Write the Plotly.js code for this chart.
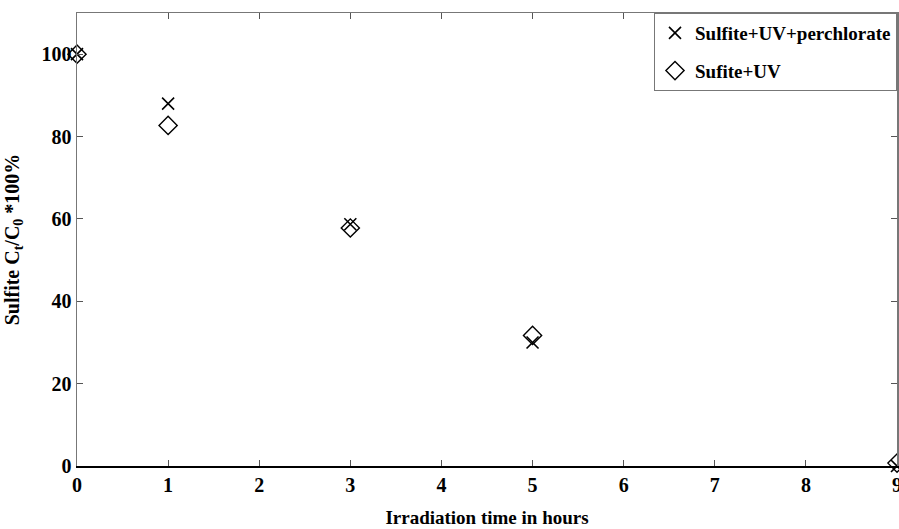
<!DOCTYPE html>
<html><head><meta charset="utf-8">
<script src="https://cdn.plot.ly/plotly-3.0.1.min.js"></script>
<style>html,body{margin:0;padding:0;background:#fff}</style>
</head><body>
<div id="chart" style="width:899px;height:529px"></div>
<script>
const hours = [0, 1, 3, 5, 9];
const withPerchlorate = [100, 88, 58.7, 30, 0];
const withoutPerchlorate = [100, 82.7, 57.8, 31.7, 0.7];
const seriesNames = ['Sulfite+UV+perchlorate', 'Sufite+UV'];
const xTicks = [0,1,2,3,4,5,6,7,8,9];
const yTicks = [0,20,40,60,80,100];

const fam = '"Liberation Serif", "Times New Roman", serif';
const traces = [
  {x: hours, y: withPerchlorate, name: seriesNames[0], legendgroup: 'a', mode: 'markers', type: 'scatter', cliponaxis: false,
   marker: {symbol: 'x-thin-open', size: 12, color: '#000', line: {width: 1.6, color: '#000'}}},
  {x: hours, y: withoutPerchlorate, name: seriesNames[1], legendgroup: 'b', mode: 'markers', type: 'scatter', cliponaxis: false,
   marker: {symbol: 'diamond-open', size: 14, color: '#000', line: {width: 1.4, color: '#000'}}}
];
const layout = {
  width: 899, height: 529,
  margin: {l: 77, r: 2, t: 13, b: 63},
  paper_bgcolor: '#fff', plot_bgcolor: '#fff',
  font: {family: fam, size: 19, color: '#000'},
  showlegend: true,
  legend: {x: 1, y: 1, xanchor: 'right', yanchor: 'top', bgcolor: '#fff', bordercolor: '#777', borderwidth: 1,
    font: {family: fam, size: 19, color: '#000', weight: 'bold'}, tracegroupgap: 10, traceorder: 'grouped'},
  xaxis: {range: [0, 9], tickvals: xTicks, ticktext: xTicks.map(String), ticks: 'inside', ticklen: 6,
    tickcolor: '#555', showgrid: false, zeroline: false, showline: true, linecolor: '#000', linewidth: 1.5, mirror: false,
    ticklabeloverflow: 'allow',
    tickfont: {family: fam, size: 20, color: '#000', weight: 'bold'},
    title: {text: 'Irradiation time in hours', standoff: 16, font: {family: fam, size: 19, color: '#000', weight: 'bold'}}},
  xaxis2: {overlaying: 'x', side: 'top', range: [0, 9], tickvals: xTicks, ticks: 'inside', ticklen: 6, tickcolor: '#555',
    showticklabels: false, showgrid: false, zeroline: false, showline: true, linecolor: '#777', linewidth: 1.5},
  yaxis: {range: [0, 110], tickvals: yTicks, ticktext: yTicks.map(String), ticks: 'inside', ticklen: 6,
    tickcolor: '#555', showgrid: false, zeroline: false, showline: true, linecolor: '#777', linewidth: 1.5, mirror: 'ticks',
    tickfont: {family: fam, size: 20, color: '#000', weight: 'bold'},
    title: {text: 'Sulfite C<sub>t</sub>/C<sub>0</sub> *100%', standoff: 16, font: {family: fam, size: 20, color: '#000', weight: 'bold'}}}
};
traces.push({x: [0], y: [null], xaxis: 'x2', showlegend: false, hoverinfo: 'skip', mode: 'markers'});
Plotly.newPlot('chart', traces, layout, {displayModeBar: false, staticPlot: true});
</script>
</body></html>
